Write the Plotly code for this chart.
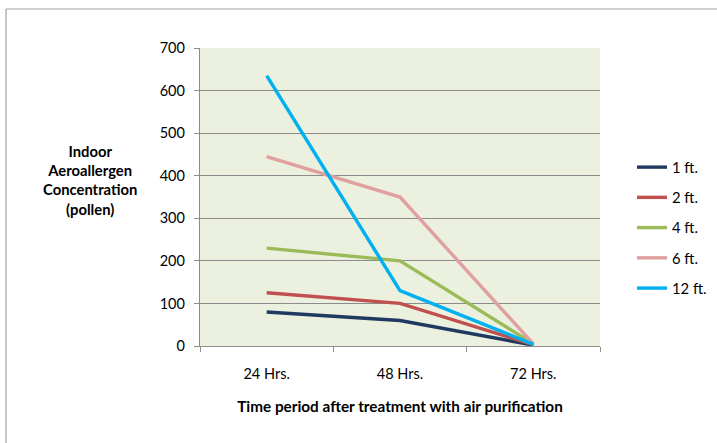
import plotly.graph_objects as go

categories = ["24 Hrs.", "48 Hrs.", "72 Hrs."]
series_names = ["1 ft.", "2 ft.", "4 ft.", "6 ft.", "12 ft."]
s1 = [80, 60, 2]
s2 = [125, 100, 3]
s4 = [230, 200, 5]
s6 = [445, 350, 5]
s12 = [635, 130, 4]
colors = ["#1F3A60", "#C0504D", "#9BBB59", "#E0A09E", "#00B0F0"]

FONT = "Lato"
L, T, PW, PH = 200, 48, 400, 298

fig = go.Figure()
for i, (name, vals) in enumerate(zip(series_names, [s1, s2, s4, s6, s12])):
    fig.add_trace(go.Scatter(
        x=categories, y=vals, mode="lines", name=name,
        line=dict(color=colors[i], width=3.4),
        legendgroup=str(i),
    ))

fig.update_layout(
    width=717, height=443,
    margin=dict(l=L, r=717 - L - PW, t=T, b=443 - T - PH, autoexpand=False),
    paper_bgcolor="white",
    plot_bgcolor="#EBF0DF",
    font=dict(family=FONT, size=14.5, color="#000000"),
    showlegend=True,
    legend=dict(x=1.08, y=(346 - 228) / 298, yanchor="middle", xanchor="left",
                font=dict(size=14.8, family=FONT), tracegroupgap=8,
                bgcolor="rgba(0,0,0,0)", borderwidth=0),
    xaxis=dict(
        type="category", showgrid=False, showline=True, linecolor="#8C8C8C",
        linewidth=1.3, ticks="outside", tickson="boundaries", ticklen=5,
        tickcolor="#8C8C8C", range=[-0.5, 2.5], ticklabelstandoff=14,
        tickfont=dict(size=14.5, family=FONT),
        title=dict(text="<b>Time period after treatment with air purification</b>",
                   font=dict(size=15.3, family=FONT), standoff=20),
    ),
    yaxis=dict(
        range=[0, 700], dtick=100, showgrid=True, gridcolor="#8C8C8C", gridwidth=1.2,
        showline=True, linecolor="#8C8C8C", linewidth=1.3, ticks="outside",
        ticklen=5, tickcolor="#8C8C8C", zeroline=False, ticklabelstandoff=6,
        tickfont=dict(size=14.5, family=FONT),
    ),
    annotations=[dict(
        text="<b>Indoor<br>Aeroallergen<br>Concentration<br>(pollen)</b>",
        xref="paper", yref="paper", x=(90 - 200) / 400, y=(346 - 180) / 298,
        showarrow=False, font=dict(size=14.8, family=FONT), align="center",
        xanchor="center", yanchor="middle",
    )],
    shapes=[
        dict(type="line", xref="paper", yref="paper",
             x0=(6 - 200) / 400, x1=(730 - 200) / 400,
             y0=(346 - 9) / 298, y1=(346 - 9) / 298,
             line=dict(color="#A0A0A0", width=1.2)),
        dict(type="line", xref="paper", yref="paper",
             x0=(6 - 200) / 400, x1=(6 - 200) / 400,
             y0=(346 - 9) / 298, y1=(346 - 460) / 298,
             line=dict(color="#A0A0A0", width=1.2)),
    ],
)

fig.write_html("out.html", config={"displayModeBar": False},
               post_script="document.body.style.margin='0px';")
